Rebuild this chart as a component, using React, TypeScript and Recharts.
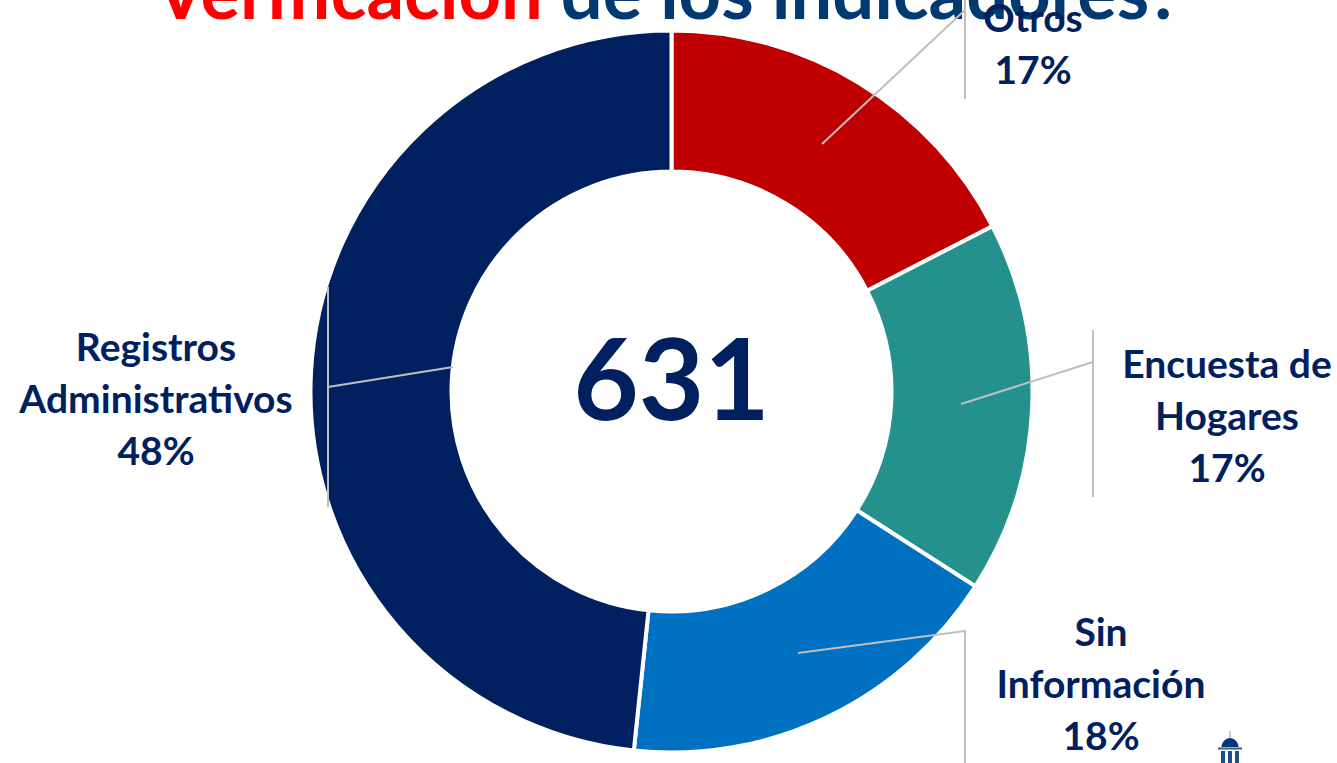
import React from 'react';
import { PieChart, Pie, Cell, Label } from 'recharts';

const WIDTH = 1337;
const HEIGHT = 763;
const FONT = 'Lato, "Open Sans", sans-serif';
const NAVY = '#002060';

const categories = ['Otros', 'Encuesta de Hogares', 'Sin Información', 'Registros Administrativos'];
const counts = [110, 105, 111, 305];
const percentLabels = ['17%', '17%', '18%', '48%'];
const total = '631';
const colors = ['#C00000', '#25918D', '#0070C0', '#002060'];

// label placement, one entry per slice
const labelLines = [['Otros'], ['Encuesta de', 'Hogares'], ['Sin', 'Información'], ['Registros', 'Administrativos']];
const labelX = [1033, 1227, 1101, 156];
const labelFirstY = [32, 378, 646, 361];
const leaders = [
  { x1: 822, y1: 144, x2: 965, y2: 10, barX: 965, barTop: 0, barBottom: 99 },
  { x1: 961, y1: 404, x2: 1093, y2: 362, barX: 1093, barTop: 330, barBottom: 497 },
  { x1: 798, y1: 653, x2: 965, y2: 631, barX: 965, barTop: 630, barBottom: 763 },
  { x1: 453, y1: 367, x2: 328, y2: 387, barX: 328, barTop: 287, barBottom: 507 },
];

const pieData = categories.map((name, i) => ({ name, value: counts[i] }));

const renderSliceLabel = ({ index }: any) => {
  const l = leaders[index];
  const lines = [...labelLines[index], percentLabels[index]];
  return (
    <g key={`label-${index}`}>
      <line x1={l.x1} y1={l.y1} x2={l.x2} y2={l.y2} stroke="#BFBFBF" strokeWidth={2} />
      <line x1={l.barX} y1={l.barTop} x2={l.barX} y2={l.barBottom} stroke="#BFBFBF" strokeWidth={2} />
      <text textAnchor="middle" fontFamily={FONT} fontWeight={700} fontSize={39} fill={NAVY}>
        {lines.map((line, i) => (
          <tspan key={i} x={labelX[index]} y={labelFirstY[index] + i * 52}>{line}</tspan>
        ))}
      </text>
    </g>
  );
};

const Capitol = () => (
  <svg width={26} height={33} viewBox="0 0 26 33" style={{ position: 'absolute', left: 1217, top: 730 }}>
    <line x1={13} y1={1} x2={13} y2={8} stroke="#7f9bbb" strokeWidth={1} />
    <path d="M4.5 17 A8.5 9 0 0 1 21.5 17 Z" fill="#003a78" />
    <rect x={1} y={17.5} width={24} height={2} fill="#2f5f95" />
    <rect x={4} y={21} width={4} height={12} fill="#1f4f88" />
    <rect x={11} y={21} width={4} height={12} fill="#1f4f88" />
    <rect x={18} y={21} width={4} height={12} fill="#1f4f88" />
  </svg>
);

export default function App() {
  return (
    <div style={{ position: 'absolute', left: 0, top: 0, width: WIDTH, height: HEIGHT, overflow: 'hidden', background: '#fff' }}>
      <div
        style={{
          position: 'absolute', left: 0, top: -52, width: WIDTH, textAlign: 'center', whiteSpace: 'nowrap',
          fontFamily: FONT, fontWeight: 700, fontSize: 74, lineHeight: '86px', color: '#003A70',
        }}
      >
        <span style={{ color: '#FF0000' }}>Verificación</span> de los indicadores?
      </div>
      <div style={{ position: 'absolute', left: 0, top: 0 }}>
        <PieChart width={WIDTH} height={HEIGHT} margin={{ top: 0, right: 0, bottom: 0, left: 0 }}>
          <Pie
            data={pieData}
            dataKey="value"
            nameKey="name"
            cx={671.5}
            cy={391.5}
            outerRadius={361}
            innerRadius={220}
            startAngle={90}
            endAngle={-270}
            stroke="#fff"
            strokeWidth={4}
            label={renderSliceLabel}
            labelLine={false}
            isAnimationActive={false}
          >
            {pieData.map((entry, i) => (
              <Cell key={entry.name} fill={colors[i]} />
            ))}
            <Label value={total} position="center" dx={3} dy={-2} fontFamily={FONT} fontWeight={700} fontSize={113} fill={NAVY} />
          </Pie>
        </PieChart>
      </div>
      <Capitol />
    </div>
  );
}
